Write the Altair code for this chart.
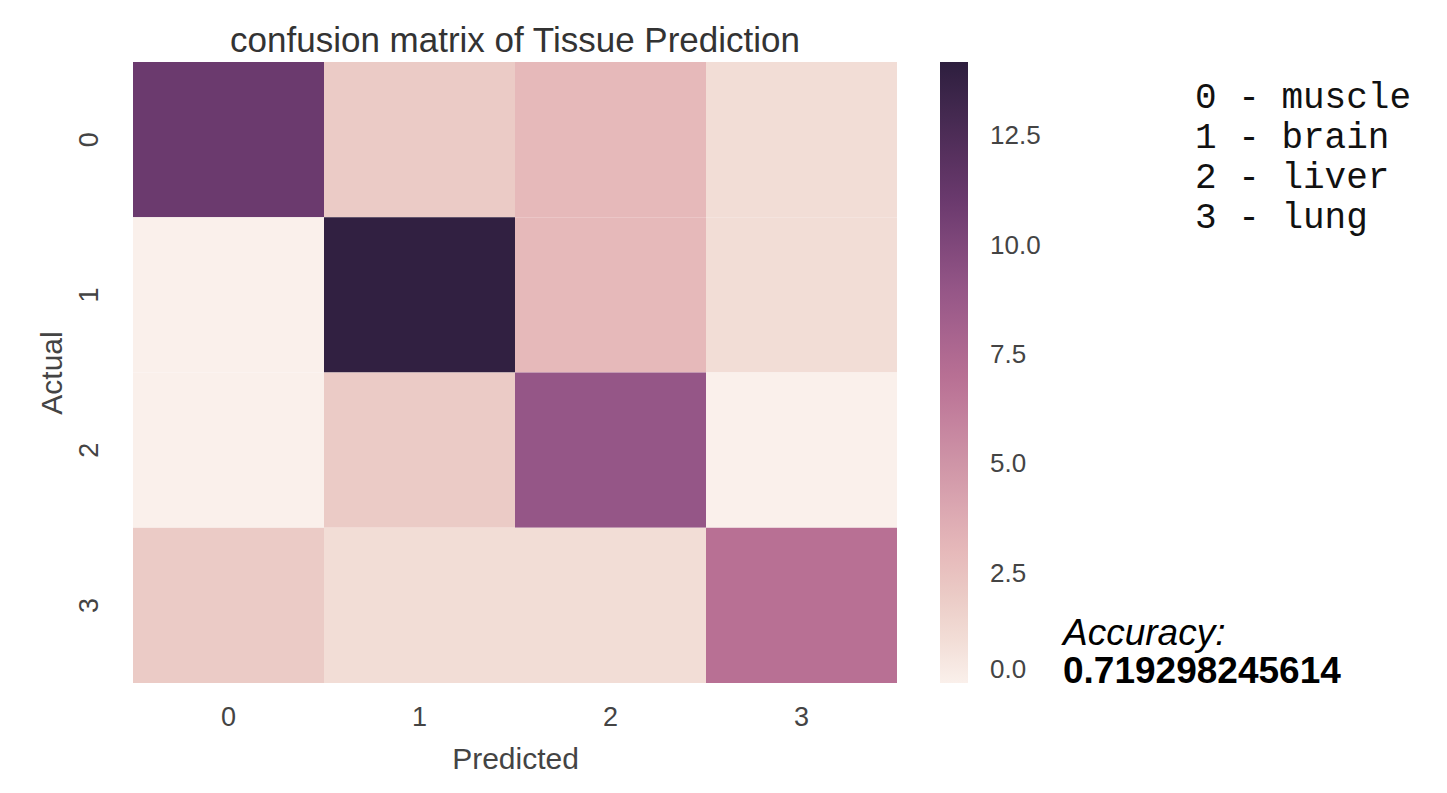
import altair as alt
import pandas as pd

classes = ["0", "1", "2", "3"]
counts = [
    [11, 2, 3, 1],
    [0, 14, 3, 1],
    [0, 2, 9, 0],
    [2, 1, 1, 7],
]
chart_title = "confusion matrix of Tissue Prediction"
tissue_lines = ["0 - muscle", "1 - brain", "2 - liver", "3 - lung"]
accuracy_label = "Accuracy:"
accuracy_value = "0.719298245614"
legend_ticks = [0.0, 2.5, 5.0, 7.5, 10.0, 12.5]
color_stops = [0, 1, 2, 3, 7, 9, 11, 14.2]
color_hex = ["#faf0eb", "#f2ddd6", "#ebcbc6", "#e6b9ba", "#b87094", "#955687", "#6b3a6e", "#2d1e3e"]

rows = []
for i, a in enumerate(classes):
    for j, p in enumerate(classes):
        rows.append({"Actual": a, "Predicted": p, "count": counts[i][j]})
df = pd.DataFrame(rows)

W, H = 764, 621
FONT = "Liberation Sans"
TXT = "#444444"

heat = alt.Chart(df).mark_rect().encode(
    x=alt.X("Predicted:O", sort=classes,
            scale=alt.Scale(paddingInner=0, paddingOuter=0),
            axis=alt.Axis(title="Predicted", labelAngle=0, ticks=False, domain=False,
                          labelFont=FONT, labelFontSize=27, labelColor=TXT, labelPadding=21,
                          titleFont=FONT, titleFontSize=30, titleColor=TXT,
                          titleFontWeight="normal", titlePadding=14)),
    y=alt.Y("Actual:O", sort=classes,
            scale=alt.Scale(paddingInner=0, paddingOuter=0),
            axis=alt.Axis(title="Actual", labelAngle=270, ticks=False, domain=False,
                          labelAlign="center", labelBaseline="bottom",
                          labelFont=FONT, labelFontSize=27, labelColor=TXT, labelPadding=30,
                          titleFont=FONT, titleFontSize=30, titleColor=TXT,
                          titleFontWeight="normal", titlePadding=8)),
    color=alt.Color("count:Q",
                    scale=alt.Scale(domain=color_stops, range=color_hex, interpolate="rgb"),
                    legend=alt.Legend(title=None, orient="none", legendX=W + 43, legendY=0,
                                      direction="vertical", gradientLength=H,
                                      gradientThickness=28, gradientStrokeWidth=0,
                                      values=legend_ticks, format=".1f", labelOverlap=False,
                                      labelFont=FONT, labelFontSize=26, labelColor=TXT,
                                      labelOffset=22, labelBaseline="middle")),
)

one = pd.DataFrame({"k": [0]})

title_text = alt.Chart(one).mark_text(
    text=chart_title, align="center", baseline="alphabetic", font=FONT,
    fontSize=35, color="#333333"
).encode(x=alt.value(W / 2), y=alt.value(-10))

tissue_text = alt.Chart(one).mark_text(
    text=tissue_lines, align="left", baseline="alphabetic", font="Liberation Mono",
    fontSize=36, lineHeight=40, color="#111111"
).encode(x=alt.value(1062), y=alt.value(46))

acc_label = alt.Chart(one).mark_text(
    text=accuracy_label, align="left", baseline="alphabetic", font=FONT,
    fontSize=37, fontStyle="italic", color="#000000"
).encode(x=alt.value(930), y=alt.value(583))

acc_value = alt.Chart(one).mark_text(
    text=accuracy_value, align="left", baseline="alphabetic", font=FONT,
    fontSize=37, fontWeight="bold", color="#000000"
).encode(x=alt.value(930), y=alt.value(621))

chart = alt.layer(heat, title_text, tissue_text, acc_label, acc_value).properties(
    width=W, height=H,
    autosize=alt.AutoSizeParams(type="none"),
    padding={"left": 125, "top": 54, "right": 540, "bottom": 94},
    background="white",
).configure_view(strokeWidth=0)

chart.save("out.html", embed_options={"renderer": "svg", "actions": False})
